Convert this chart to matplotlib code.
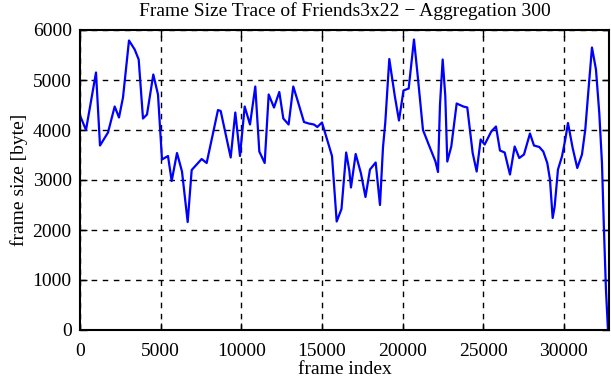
import matplotlib
matplotlib.use("Agg")
import matplotlib.pyplot as plt

# frame index (aggregation 300) and frame size in bytes
frames = [0, 372, 992, 1240, 1736, 2151, 2418, 2666, 3038, 3391, 3639, 3906,
          4154, 4545, 4836, 5084, 5456, 5685, 6014, 6324, 6677, 6925, 7543,
          7853, 8556, 8723, 9344, 9629, 9920, 10211, 10540, 10869, 11118,
          11451, 11699, 12028, 12358, 12606, 12935, 13224, 13472, 13888,
          14179, 14508, 14713, 15004, 15376, 15624, 15915, 16213, 16504,
          16697, 16802, 17093, 17422, 17701, 17980, 18333, 18600, 18786,
          18929, 19177, 19518, 19778, 20057, 20379, 20708, 20937, 21266,
          21669, 22041, 22196, 22320, 22487, 22649, 22773, 23021, 23355,
          23765, 24013, 24347, 24595, 24843, 25091, 25501, 25792, 26040,
          26331, 26660, 26951, 27237, 27528, 27900, 28148, 28477, 28725,
          28973, 29140, 29307, 29431, 29636, 29884, 30089, 30256, 30547,
          30833, 31124, 31329, 31496, 31744, 31992, 32197, 32364, 32488,
          32612, 32736]
sizes = [4290, 4000, 5150, 3690, 3950, 4470, 4250, 4650, 5790, 5610, 5410, 4230,
         4310, 5110, 4710, 3410, 3480, 2980, 3540, 3170, 2160, 3200, 3420,
         3340, 4400, 4380, 3450, 4350, 3480, 4470, 4110, 4870, 3570,
         3340, 4710, 4450, 4760, 4230, 4110, 4870, 4610, 4160,
         4130, 4110, 4060, 4150, 3750, 3480, 2170, 2420, 3550,
         3190, 2850, 3520, 3130, 2660, 3210, 3350, 2500, 3650,
         4150, 5420, 4680, 4190, 4790, 4830, 5810, 5090, 4000,
         3670, 3370, 3160, 4500, 5410, 4680, 3370, 3670, 4530,
         4470, 4450, 3540, 3170, 3810, 3710, 3970, 4070, 3590,
         3550, 3110, 3670, 3440, 3510, 3930, 3690, 3660, 3570,
         3340, 3010, 2240, 2470, 3210, 3470, 3810, 4140, 3640,
         3240, 3510, 4010, 4680, 5650, 5210, 4340, 3340, 2000,
         800, 0]

xticks = [0, 5000, 10000, 15000, 20000, 25000, 30000]
yticks = [0, 1000, 2000, 3000, 4000, 5000, 6000]

plt.rcParams['font.family'] = ['Liberation Serif', 'DejaVu Serif']
fs = 14

fig = plt.figure(figsize=(6.11, 3.80), dpi=100)
ax = fig.add_axes([80 / 611, 1 - 330 / 380, 529 / 611, 300 / 380])

ax.plot(frames, sizes, color="#0000ff", linewidth=1.6)

ax.set_xlim(0, 32800)
ax.set_ylim(0, 6000)
ax.set_xticks(xticks)
ax.set_yticks(yticks)
ax.grid(True, color="black", linestyle=(0, (4, 4)), linewidth=1.0)
ax.tick_params(direction="in", top=True, right=True, length=5, width=1.0,
               labelsize=fs)
ax.tick_params(axis="x", pad=9)
ax.tick_params(axis="y", pad=6)
for s in ax.spines.values():
    s.set_linewidth(1.5)

ax.set_title("Frame Size Trace of Friends3x22 \u2212 Aggregation 300", fontsize=fs, pad=10)
ax.set_xlabel("frame index", fontsize=fs, labelpad=1)
ax.set_ylabel("frame size [byte]", fontsize=fs, labelpad=3)

fig.savefig("out.png", dpi=100)
